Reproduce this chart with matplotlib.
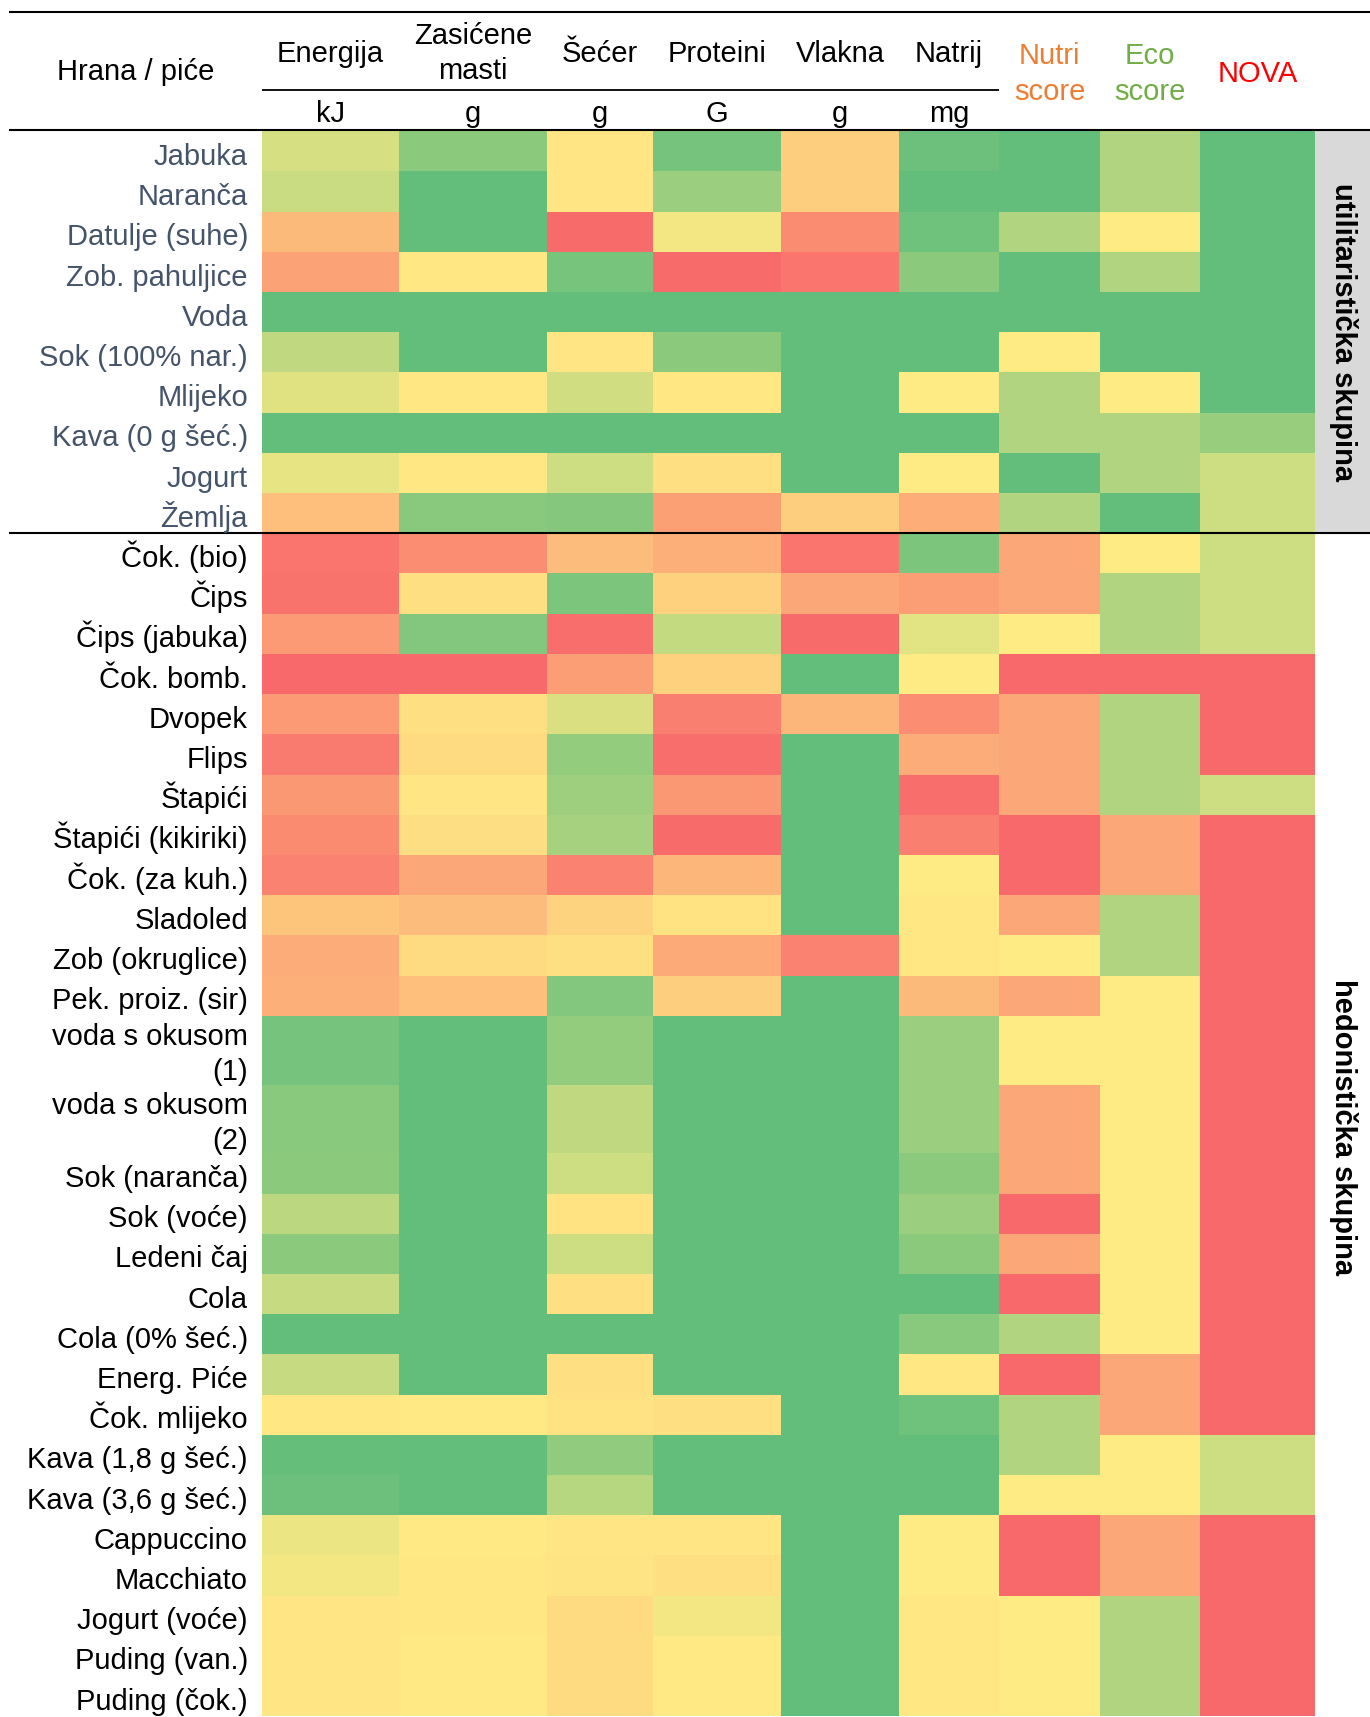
import matplotlib
matplotlib.use('Agg')
import matplotlib.pyplot as plt
from matplotlib.colors import LinearSegmentedColormap
from matplotlib.patches import Rectangle
import numpy as np

# ---------------- data ----------------
util_foods = ['Jabuka', 'Naranča', 'Datulje (suhe)', 'Zob. pahuljice', 'Voda',
              'Sok (100% nar.)', 'Mlijeko', 'Kava (0 g šeć.)', 'Jogurt', 'Žemlja']
hed_foods = ['Čok. (bio)', 'Čips', 'Čips (jabuka)', 'Čok. bomb.', 'Dvopek', 'Flips',
             'Štapići', 'Štapići (kikiriki)', 'Čok. (za kuh.)', 'Sladoled',
             'Zob (okruglice)', 'Pek. proiz. (sir)', 'voda s okusom\n(1)',
             'voda s okusom\n(2)', 'Sok (naranča)', 'Sok (voće)', 'Ledeni čaj', 'Cola',
             'Cola (0% šeć.)', 'Energ. Piće', 'Čok. mlijeko', 'Kava (1,8 g šeć.)',
             'Kava (3,6 g šeć.)', 'Cappuccino', 'Macchiato', 'Jogurt (voće)',
             'Puding (van.)', 'Puding (čok.)']

col_titles = ['Energija', 'Zasićene\nmasti', 'Šećer', 'Proteini', 'Vlakna', 'Natrij',
              'Nutri\nscore', 'Eco\nscore', 'NOVA']
units = ['kJ', 'g', 'g', 'G', 'g', 'mg']
group_names = ['utilitaristička skupina', 'hedonistička skupina']

# colour-scale position per cell: 0 = worst (red), 0.5 = middle (yellow), 1 = best (green)
energija = [0.63, 0.67, 0.31, 0.22, 1.0, 0.70, 0.60, 1.0, 0.58, 0.33,
            0.05, 0.04, 0.19, 0.0, 0.19, 0.07, 0.18, 0.13, 0.10, 0.35,
            0.26, 0.27, 0.94, 0.88, 0.87, 0.715, 0.87, 0.68, 1.0, 0.68,
            0.49, 0.99, 0.97, 0.564, 0.54, 0.48, 0.48, 0.48]
zasicene_masti = [0.87, 1.0, 1.0, 0.49, 1.0, 1.0, 0.49, 1.0, 0.49, 0.88,
                  0.14, 0.46, 0.90, 0.0, 0.46, 0.44, 0.48, 0.45, 0.24, 0.32,
                  0.44, 0.33, 1.0, 1.0, 1.0, 1.0, 1.0, 1.0, 1.0, 1.0,
                  0.495, 1.0, 1.0, 0.495, 0.49, 0.485, 0.495, 0.495]
secer = [0.48, 0.48, 0.01, 0.935, 1.0, 0.48, 0.65, 1.0, 0.66, 0.89,
         0.32, 0.92, 0.02, 0.20, 0.62, 0.84, 0.81, 0.785, 0.10, 0.41,
         0.46, 0.90, 0.84, 0.70, 0.66, 0.47, 0.66, 0.46, 1.0, 0.46,
         0.47, 0.85, 0.73, 0.48, 0.475, 0.44, 0.44, 0.44]
proteini = [0.94, 0.82, 0.54, 0.01, 1.0, 0.87, 0.49, 1.0, 0.455, 0.21,
            0.27, 0.40, 0.69, 0.40, 0.09, 0.02, 0.18, 0.01, 0.30, 0.47,
            0.25, 0.39, 1.0, 1.0, 1.0, 1.0, 1.0, 1.0, 1.0, 1.0,
            0.46, 1.0, 1.0, 0.48, 0.46, 0.54, 0.495, 0.495]
vlakna = [0.39, 0.39, 0.135, 0.05, 1.0, 1.0, 1.0, 1.0, 1.0, 0.39,
          0.05, 0.24, 0.01, 1.0, 0.30, 1.0, 1.0, 1.0, 1.0, 1.0,
          0.10, 1.0, 1.0, 1.0, 1.0, 1.0, 1.0, 1.0, 1.0, 1.0,
          1.0, 1.0, 1.0, 1.0, 1.0, 1.0, 1.0, 1.0]
natrij = [0.97, 1.0, 0.96, 0.87, 1.0, 1.0, 0.5, 1.0, 0.5, 0.265,
          0.92, 0.20, 0.59, 0.5, 0.14, 0.26, 0.02, 0.09, 0.5, 0.49,
          0.49, 0.31, 0.82, 0.82, 0.87, 0.82, 0.87, 1.0, 0.88, 0.49,
          0.96, 1.0, 1.0, 0.5, 0.5, 0.49, 0.485, 0.485]
nutri_score = ['A', 'A', 'B', 'A', 'A', 'C', 'B', 'B', 'A', 'B',
               'D', 'D', 'C', 'E', 'D', 'D', 'D', 'E', 'E', 'D',
               'C', 'D', 'C', 'D', 'D', 'E', 'D', 'E', 'B', 'E',
               'B', 'B', 'C', 'E', 'E', 'C', 'C', 'C']
eco_score = ['B', 'B', 'C', 'B', 'A', 'A', 'C', 'B', 'B', 'A',
             'C', 'B', 'B', 'E', 'B', 'B', 'B', 'D', 'D', 'B',
             'B', 'C', 'C', 'C', 'C', 'C', 'C', 'C', 'C', 'D',
             'D', 'C', 'C', 'D', 'D', 'B', 'B', 'B']
nova = [1.0, 1.0, 1.0, 1.0, 1.0, 1.0, 1.0, 0.83, 0.66, 0.66,
        0.66, 0.66, 0.66, 0.0, 0.0, 0.0, 0.66, 0.0, 0.0, 0.0,
        0.0, 0.0, 0.0, 0.0, 0.0, 0.0, 0.0, 0.0, 0.0, 0.0,
        0.0, 0.66, 0.66, 0.0, 0.0, 0.0, 0.0, 0.0]

# ---------------- style / layout ----------------
grade_pos = {'A': 1.0, 'B': 0.75, 'C': 0.5, 'D': 0.24, 'E': 0.0}
cmap = LinearSegmentedColormap.from_list('excel3', ['#F8696B', '#FFEB84', '#63BE7B'])
FONT = ['Liberation Sans', 'DejaVu Sans']
FS = 21
W, H = 1370, 1717
col_widths = [137, 148, 106, 128, 118, 100, 101, 100, 115]
x_start = 262
table_top = 131.3
row_h = 40.2
tall_h = 68.8
band_w = 55
util_color = '#44546A'
head_colors = ['black'] * 6 + ['#ED7D31', '#70AD47', '#FF0000']

plt.rcParams['font.family'] = FONT

cols = [energija, zasicene_masti, secer, proteini, vlakna, natrij,
        [grade_pos[g] for g in nutri_score], [grade_pos[g] for g in eco_score], nova]
Z = np.array(cols).T
labels = util_foods + hed_foods

xedges = x_start + np.concatenate([[0], np.cumsum(col_widths)])
heights = [tall_h if '\n' in lab else row_h for lab in labels]
yedges = table_top + np.concatenate([[0], np.cumsum(heights)])

fig = plt.figure(figsize=(W / 100, H / 100), dpi=100)
ax = fig.add_axes([0, 0, 1, 1])
ax.set_xlim(0, W)
ax.set_ylim(H, 0)
ax.axis('off')

ax.pcolormesh(xedges, yedges, Z, cmap=cmap, vmin=0, vmax=1, shading='flat',
              antialiased=False, linewidth=0)

# grey band for utilitarian group
n_util = len(util_foods)
ax.add_patch(Rectangle((xedges[-1], yedges[0]), band_w, yedges[n_util] - yedges[0],
                       facecolor='#D9D9D9', edgecolor='none'))

# row labels
line_gap = 35
for i, lab in enumerate(labels):
    color = util_color if i < n_util else 'black'
    lines = lab.split('\n')
    base = yedges[i + 1] - 6.5
    if len(lines) > 1:
        base += 2
    for k, ln in enumerate(reversed(lines)):
        ax.text(248, base - k * line_gap, ln, ha='right', va='baseline',
                fontsize=FS, color=color)

# header
lw = 1.5
ax.plot([9.5, W], [11.7, 11.7], color='black', lw=lw, solid_capstyle='butt')
ax.plot([9.5, W], [130.3, 130.3], color='black', lw=lw, solid_capstyle='butt')
ax.plot([xedges[0], xedges[6]], [90, 90], color='black', lw=1.3, solid_capstyle='butt')
ax.plot([9.5, W], [yedges[n_util], yedges[n_util]], color='black', lw=lw,
        solid_capstyle='butt')

ax.text(136, 80.5, 'Hrana / piće', ha='center', va='baseline', fontsize=FS)
for j, title in enumerate(col_titles):
    xc = (xedges[j] + xedges[j + 1]) / 2
    lines = title.split('\n')
    if j < 6:
        first = 61.7 if len(lines) == 1 else 44
    elif len(lines) == 1:
        first = 81.7
    else:
        first = 64.5
    for k, ln in enumerate(lines):
        ax.text(xc, first + k * line_gap, ln, ha='center', va='baseline',
                fontsize=FS, color=head_colors[j])
for j, u in enumerate(units):
    xc = (xedges[j] + xedges[j + 1]) / 2
    ax.text(xc, 121.5, u, ha='center', va='baseline', fontsize=FS)

# group labels
xg = xedges[-1] + band_w / 2 + 1
ax.text(xg, (yedges[0] + yedges[n_util]) / 2, group_names[0], rotation=-90,
        ha='center', va='center', fontsize=FS, fontweight='bold')
ax.text(xg, (yedges[n_util] + yedges[-1]) / 2 + 2, group_names[1], rotation=-90,
        ha='center', va='center', fontsize=FS, fontweight='bold')

fig.savefig('out.png', dpi=100, facecolor='white')
